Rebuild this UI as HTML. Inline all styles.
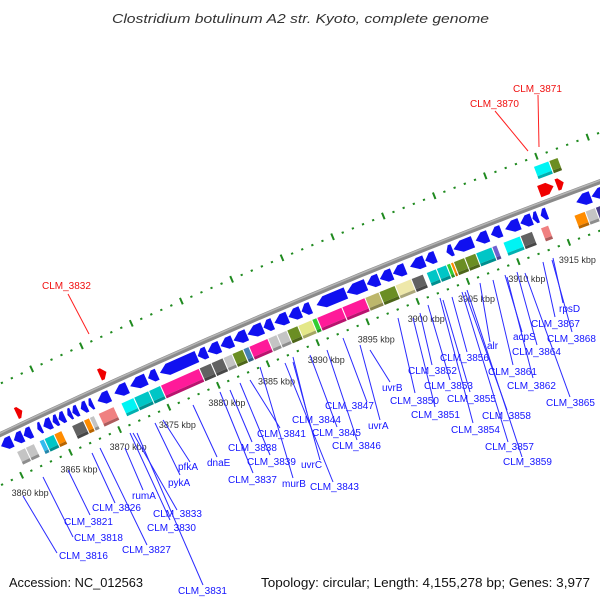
<!DOCTYPE html>
<html><head><meta charset="utf-8">
<style>
html,body{margin:0;padding:0;background:#fff;}
svg{display:block;font-family:"Liberation Sans",sans-serif;}
</style></head>
<body>
<svg id="chart" width="600" height="600" viewBox="0 0 600 600" xmlns="http://www.w3.org/2000/svg">
<rect width="600" height="600" fill="#fff"/>
<text x="112" y="23" font-size="13" font-style="italic" fill="#333" textLength="377" lengthAdjust="spacingAndGlyphs">Clostridium botulinum A2 str. Kyoto, complete genome</text>
<g id="rings"></g>
<g id="genes"></g>
<g id="labels"></g>
<text x="9" y="587" font-size="13" fill="#111" textLength="134" lengthAdjust="spacingAndGlyphs">Accession: NC_012563</text>
<text x="261" y="587" font-size="13" fill="#111" textLength="329" lengthAdjust="spacingAndGlyphs">Topology: circular; Length: 4,155,278 bp; Genes: 3,977</text>
</svg>
<script>
// ---- data (kbp) ----
const revStart = [3859.4,3860.7,3861.7,3863.1,3863.7,3864.65,3865.25,3866.15,3866.65,3867.5,3868.3,3869.2,3870.9,3872.5,3874.3,3875.5,3879.3,3880.3,3881.6,3882.9,3884.3,3885.9,3887.0,3888.4,3889.7,3891.2,3894.2,3896.2,3897.5,3898.8,3900.5,3902.0,3904.1,3904.8,3907.0,3908.5,3909.9,3911.4,3912.6,3913.4,3916.9,3918.4];
const revEnd   = [3860.6,3861.7,3862.6,3863.6,3864.6,3865.25,3865.95,3866.65,3867.3,3868.2,3868.8,3870.5,3872.3,3874.2,3875.3,3879.3,3880.3,3881.6,3882.9,3884.3,3885.9,3886.9,3888.4,3889.7,3890.7,3894.2,3896.2,3897.5,3898.8,3900.1,3902.0,3903.1,3904.8,3906.8,3908.3,3909.6,3911.4,3912.6,3913.2,3914.1,3918.4,3919.9];
const fwdStart = [3862.0,3870.4,3914.1,3915.8];
const fwdEnd   = [3862.6,3871.1,3915.5,3916.5];
const boxStart = [3860.5,3861.4,3862.8,3863.3,3864.3,3866.1,3867.3,3867.9,3868.8,3871.1,3872.4,3873.9,3875.1,3879.0,3880.2,3881.4,3882.3,3883.4,3884.0,3885.9,3886.8,3887.8,3888.9,3890.3,3890.8,3893.3,3895.6,3897.0,3898.6,3900.2,3901.7,3902.7,3903.7,3904.1,3904.4,3905.5,3906.6,3908.2,3909.3,3911.0,3913.0,3916.3,3917.4,3918.4];
const boxEnd   = [3861.4,3862.3,3863.3,3864.3,3865.1,3867.3,3867.9,3868.4,3870.4,3872.4,3873.9,3875.1,3879.0,3880.2,3881.4,3882.3,3883.4,3884.0,3885.9,3886.8,3887.8,3888.9,3890.3,3890.8,3893.3,3895.6,3897.0,3898.6,3900.2,3901.4,3902.7,3903.7,3904.1,3904.4,3905.5,3906.6,3908.2,3908.7,3911.0,3912.2,3913.8,3917.4,3918.4,3919.5];
const boxCog   = ["lg","lg","lb","teal","orange","dg","orange","lg","coral","cyan","teal","teal","pink","dg","dg","lg","olive","steel","pink","lg","lg","olive","ykhaki","green","pink","pink","dkhaki","olive","khaki","dg","teal","teal","green","orange","olive","olive","teal","slate","cyan","dg","coral","orange","lg","dslate"];
const outBoxStart = [3914.4,3915.9];
const outBoxEnd   = [3915.9,3916.8];
const outBoxCog   = ["cyan","olive"];
const tickLabels = [3860,3865,3870,3875,3880,3885,3890,3895,3900,3905,3910,3915];
const geneLabels = ["CLM_3816","CLM_3818","CLM_3821","CLM_3826","CLM_3827","rumA","CLM_3830","CLM_3833","CLM_3831","pykA","pfkA","dnaE","CLM_3837","CLM_3838","CLM_3839","CLM_3841","murB","uvrC","CLM_3843","CLM_3844","CLM_3845","CLM_3846","CLM_3847","uvrA","uvrB","CLM_3850","CLM_3851","CLM_3852","CLM_3853","CLM_3854","CLM_3855","CLM_3856","CLM_3857","CLM_3858","CLM_3859","alr","CLM_3861","CLM_3862","acpS","CLM_3864","CLM_3865","CLM_3867","CLM_3868","rpsD"];
// label layout: text x, baseline, line x1,y1,x2,y2
const geneLabelLayout = [
[59,559,23,496,57,553],[74,541,43,477,73,537],[64,525,68,470,90,515],[92,511,92,453,115,503],[122,553,100,448,147,545],
[132,499,125,448,143,490],[147,531,130,433,170,520],[153,517,133,433,177,510],[178,594,137,433,203,585],[168,486,155,423,180,475],
[178,470,163,420,190,462],[207,466,193,405,217,457],[228,483,220,392,253,473],[228,451,230,390,252,442],[247,465,240,383,270,455],
[257,437,250,380,280,428],[282,487,260,367,293,478],[301,468,293,362,320,460],[310,490,285,363,333,482],[292,423,293,357,307,413],
[312,436,310,355,337,427],[332,449,327,350,357,440],[325,409,343,338,367,402],[368,429,360,345,380,420],[382,391,370,350,390,382],
[390,404,398,318,415,393],[411,418,413,318,435,407],[408,374,420,313,432,365],[424,389,428,305,450,380],[451,433,440,298,473,423],
[447,402,443,300,470,392],[440,361,452,297,467,352],[485,450,462,292,508,442],[482,419,465,292,507,410],[503,465,467,290,522,457],
[487,349,480,283,490,342],[488,375,493,280,513,365],[507,389,507,277,533,378],[513,340,505,275,522,332],[512,355,517,272,537,345],
[546,406,525,273,570,397],[531,327,543,262,555,317],[547,342,552,260,572,332],[559,312,553,258,563,303]];

const COLORS = {lg:"#c4c4c4",dg:"#626262",lb:"#33bbee",teal:"#00c6c6",cyan:"#00f4f4",orange:"#ff8c00",coral:"#f08080",pink:"#ff1a99",olive:"#6b8e23",steel:"#4682b4",green:"#32cd32",khaki:"#eee8aa",dkhaki:"#bdb76b",ykhaki:"#e4e888",slate:"#7060d0",dslate:"#483d8b"};

// ---- geometry (circle model) ----
const CX = 3094.3, CY = 6935.8, R0 = 7200;
const A0 = -24.57, DEG_PER_KBP = 360/4155.278;
function ang(k){ return (A0 + (k-3870)*DEG_PER_KBP) * Math.PI/180; }
function pt(k, off){ const a = ang(k), r = R0 + off; return [CX + r*Math.sin(a), CY - r*Math.cos(a)]; }
function poly(pts){ return pts.map(p=>p[0].toFixed(2)+","+p[1].toFixed(2)).join(" "); }
const NS = "http://www.w3.org/2000/svg";
function mk(tag, attrs, parent){ const e=document.createElementNS(NS,tag); for(const k in attrs) e.setAttribute(k,attrs[k]); parent.appendChild(e); return e; }
function shade(hex, f){ const n=parseInt(hex.slice(1),16); let r=(n>>16)&255,g=(n>>8)&255,b=n&255; r=Math.round(r*f);g=Math.round(g*f);b=Math.round(b*f); return "rgb("+r+","+g+","+b+")"; }

const rings = document.getElementById("rings");
const genes = document.getElementById("genes");
const labels = document.getElementById("labels");

// backbone
(function(){
  let d = "";
  for (let k=3850; k<=3930; k+=1){ const p=pt(k,0); d += (k===3850?"M":"L")+p[0].toFixed(2)+","+p[1].toFixed(2); }
  const bb = mk("path",{d:d,fill:"none",stroke:"#8a8a8a","stroke-width":5},rings);
  
  
  let d2 = "";
  for (let k=3850; k<=3930; k+=1){ const p=pt(k,1.2); d2 += (k===3850?"M":"L")+p[0].toFixed(2)+","+p[1].toFixed(2); }
  const hl = mk("path",{d:d2,fill:"none",stroke:"#b5b5b5","stroke-width":1.5},rings);
  
  
})();

// tick rings
for (let k=3850; k<=3930; k++){
  const major = (k%5===0);
  [46,-46].forEach(function(base){
    const a = major ? pt(k, base+3.5) : pt(k, base+1);
    const b = major ? pt(k, base-3.5) : pt(k, base-1);
    const t = mk("line",{x1:a[0],y1:a[1],x2:b[0],y2:b[1],stroke:"#1f8a1f","stroke-width":major?2:2.2},rings);
    
    
  });
}
tickLabels.forEach(function(k){
  const p = pt(k,-46);
  const t = mk("text",{x:(p[0]-10).toFixed(1),y:(p[1]+20.5).toFixed(1),"font-size":9,fill:"#333"},labels);
  t.textContent = k+" kbp";
  
  
});

// colored COG boxes (inner)
function drawBox(s,e,rIn,rOut,color,name){
  const g = 0.05;
  const s2=s+g, e2=e-g;
  const main = mk("polygon",{points:poly([pt(s2,rOut),pt(e2,rOut),pt(e2,rIn+3),pt(s2,rIn+3)]),fill:color},genes);
  
  
  const bot = mk("polygon",{points:poly([pt(s2,rIn+3),pt(e2,rIn+3),pt(e2,rIn),pt(s2,rIn)]),fill:shade(color,0.72)},genes);
  
  
}
for (let i=0;i<boxStart.length;i++){
  drawBox(boxStart[i], boxEnd[i], -37, -23, COLORS[boxCog[i]], 'cog-box');
}
for (let i=0;i<outBoxStart.length;i++){
  drawBox(outBoxStart[i], outBoxEnd[i], 24, 37, COLORS[outBoxCog[i]], 'outer-cog-box');
}

// reverse-strand CDS arrows (blue, pointing to lower coordinate)
for (let i=0;i<revStart.length;i++){
  const s=revStart[i]+0.04, e=revEnd[i]-0.04, len=e-s;
  const h = Math.min(0.8, len*0.55);
  const top=-5, bot=-17, mid=-11;
  const pts = [pt(s,mid),pt(s+h,top),pt(e,top),pt(e,bot),pt(s+h,bot)];
  const el = mk("polygon",{points:poly(pts),fill:"#1010f0"},genes);
  
  
}
// forward-strand CDS arrows (red)
for (let i=0;i<fwdStart.length;i++){
  const s=fwdStart[i], e=fwdEnd[i], len=e-s;
  const h = Math.min(0.6, len*0.6);
  const top=18, bot=6, mid=12;
  const pts = [pt(s,top),pt(e-h,top),pt(e,mid),pt(e-h,bot),pt(s,bot)];
  const el = mk("polygon",{points:poly(pts),fill:"#f00000"},genes);
  
  
}

// gene labels
for (let i=0;i<geneLabels.length;i++){
  const L = geneLabelLayout[i];
  const ln = mk("line",{x1:L[2],y1:L[3],x2:L[4],y2:L[5],stroke:"#2a2aff","stroke-width":1},labels);
  
  
  const t = mk("text",{x:L[0],y:L[1],"font-size":10,fill:"#1414ff"},labels);
  t.textContent = geneLabels[i];
  
  
}
// red labels (outer)
const redLabels = ["CLM_3832","CLM_3870","CLM_3871"];
const redLayout = [[42,289,68,294,89,334],[470,107,495,111,528,151],[513,92,538,95,539,147]];
for (let i=0;i<redLabels.length;i++){
  const L = redLayout[i];
  const ln = mk("line",{x1:L[2],y1:L[3],x2:L[4],y2:L[5],stroke:"#ff2020","stroke-width":1},labels);
  
  
  const t = mk("text",{x:L[0],y:L[1],"font-size":10,fill:"#f01010"},labels);
  t.textContent = redLabels[i];
  
  
}
</script>
</body></html>
